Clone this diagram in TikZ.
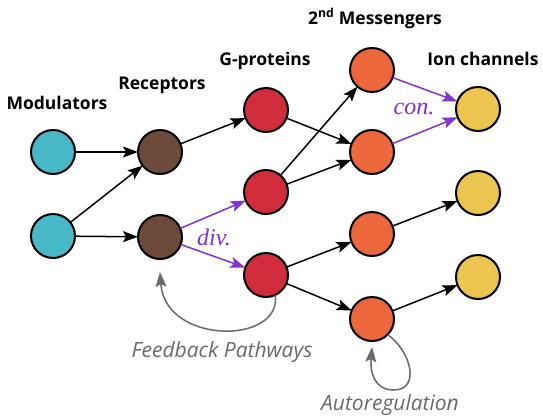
\documentclass[tikz,border=0pt]{standalone}
\usepackage{fontspec}
\setmainfont{Liberation Serif}
\newfontfamily\labfont{Open Sans}
\usetikzlibrary{arrows.meta}
\definecolor{ccyan}{RGB}{72,184,200}
\definecolor{cbrown}{RGB}{110,74,58}
\definecolor{cred}{RGB}{208,44,60}
\definecolor{corange}{RGB}{236,104,60}
\definecolor{cyellow}{RGB}{236,196,80}
\definecolor{cpurple}{RGB}{130,50,205}
\definecolor{cgray}{RGB}{105,105,105}
\begin{document}
\begin{tikzpicture}[x=1pt,y=-1pt,
  cell/.style={circle, draw=black, line width=2pt, minimum size=44pt, inner sep=0pt, outer sep=0pt},
  hdr/.style={font=\labfont\bfseries\fontsize{17.5}{20}\selectfont, anchor=base, inner sep=0pt},
  note/.style={font=\labfont\itshape\fontsize{21}{24}\selectfont, text=cgray, anchor=base, inner sep=0pt},
  tagtxt/.style={font=\itshape\fontsize{24}{28}\selectfont, text=cpurple, anchor=base, inner sep=0pt},
  arr/.style={line width=1.5pt, -{Stealth[length=15pt,width=11pt,inset=3pt]}},
  parr/.style={arr, draw=cpurple, fill=cpurple},
  garr/.style={line width=1.5pt, draw=cgray, -{Stealth[length=15pt,width=11pt,inset=3pt]}}
]
\useasboundingbox (0,0) rectangle (543,418);
% nodes
\node[cell, fill=ccyan] (M1) at (53,152) {};
\node[cell, fill=ccyan] (M2) at (53,236) {};
\node[cell, fill=cbrown] (R1) at (160,152) {};
\node[cell, fill=cbrown] (R2) at (160,237) {};
\node[cell, fill=cred] (G1) at (266,110) {};
\node[cell, fill=cred] (G2) at (266,192) {};
\node[cell, fill=cred] (G3) at (266,275) {};
\node[cell, fill=corange] (S1) at (372,70) {};
\node[cell, fill=corange] (S2) at (372,152) {};
\node[cell, fill=corange] (S3) at (372,234) {};
\node[cell, fill=corange] (S4) at (372,319) {};
\node[cell, fill=cyellow] (I1) at (478,109) {};
\node[cell, fill=cyellow] (I2) at (478,193) {};
\node[cell, fill=cyellow] (I3) at (478,277) {};
% headers
\node[hdr] (tM) at (57,109) {Modulators};
\node[hdr] (tR) at (162,89) {Receptors};
\node[hdr] (tG) at (265,65) {G-proteins};
\node[hdr] (tS) at (375,24) {2\textsuperscript{nd} Messengers};
\node[hdr] (tI) at (483,65) {Ion channels};
% black arrows
\draw[arr] (M1) -- (R1);
\draw[arr] (M2) -- (R1);
\draw[arr] (M2) -- (R2);
\draw[arr] (R1) -- (G1);
\draw[arr] (G1) -- (S2);
\draw[arr] (G2) -- (S1);
\draw[arr] (G2) -- (S2);
\draw[arr] (G3) -- (S3);
\draw[arr] (G3) -- (S4);
\draw[arr] (S3) -- (I2);
\draw[arr] (S4) -- (I3);
% purple arrows
\draw[parr] (R2) -- (G2);
\draw[parr] (R2) -- (G3);
\draw[parr] (S1) -- (I1);
\draw[parr] (S2) -- (I1);
\node[tagtxt] (div) at (214,245) {div.};
\node[tagtxt] (con) at (414,114) {con.};
% feedback
\coordinate (fbE) at (160,272);
\draw[garr] (G3.-65) .. controls (282,345) and (165,345) .. (fbE);
\node[note] (fb) at (222,357) {Feedback Pathways};
% autoregulation
\coordinate (arM) at (394,390);
\coordinate (arE) at (372,347);
\draw[garr] (S4.-45) .. controls (412,352) and (420,390) .. (arM) .. controls (374,390) and (370,372) .. (arE);
\node[note] (ar) at (390,410) {Autoregulation};
\end{tikzpicture}
\end{document}
